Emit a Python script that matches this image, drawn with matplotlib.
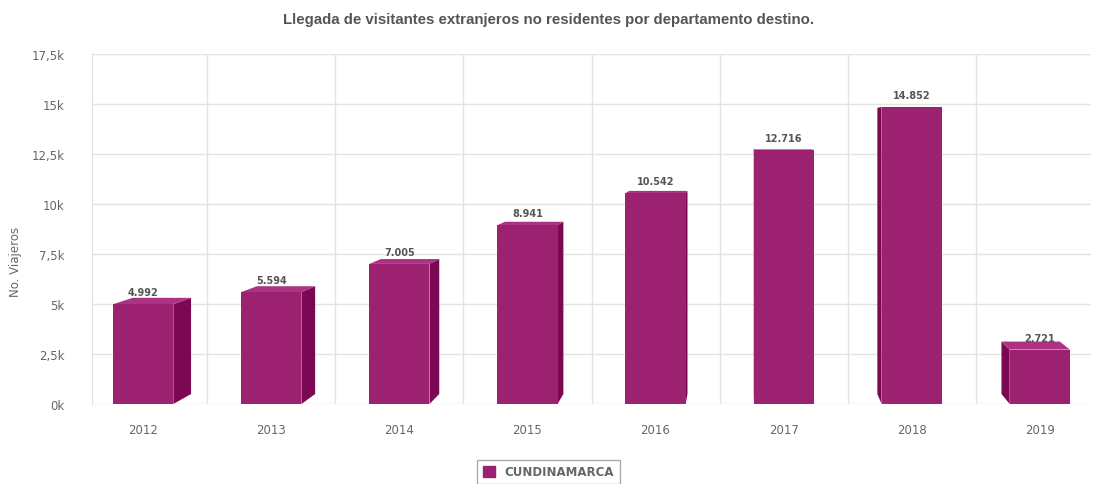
import matplotlib.pyplot as plt
import numpy as np
from matplotlib.patches import Polygon
from matplotlib.ticker import FuncFormatter

years = ["2012", "2013", "2014", "2015", "2016", "2017", "2018", "2019"]
visitors = [4992, 5594, 7005, 8941, 10542, 12716, 14852, 2721]
series_name = "CUNDINAMARCA"
title = "Llegada de visitantes extranjeros no residentes por departamento destino."
y_label = "No. Viajeros"

FRONT = "#9c2170"
SIDE = "#7a0852"
TOP = "#ac3282"
GRID = "#e3e3e3"
TEXT = "#666666"

# fake 3d depth: back face shifted toward a "vanishing point" in data units
VX, TX = 4.7, 0.031
VY, TY = 13600, 0.0368
BAR_W = 0.47


def back(x, y):
    return x + TX * (VX - x), y + TY * (VY - y)


def yfmt(v, _):
    s = f"{v / 1000:g}k"
    return s.replace(".", ",")


def thousands(v):
    return f"{v:,}".replace(",", ".")


fig = plt.figure(figsize=(10.97, 4.85), dpi=100)
ax = fig.add_axes([92 / 1097, 80 / 485, 999 / 1097, 350 / 485])

x = np.arange(len(years))
ax.bar(x, visitors, width=BAR_W, color=FRONT, zorder=3, linewidth=0)

for xi, h in zip(x, visitors):
    xl, xr = xi - BAR_W / 2, xi + BAR_W / 2
    # side face
    if xr < VX:
        pts = [(xr, 0), (xr, h), back(xr, h), back(xr, 0)]
        ax.add_patch(Polygon(pts, closed=True, color=SIDE, lw=0, zorder=2))
    elif xl > VX:
        pts = [(xl, 0), (xl, h), back(xl, h), back(xl, 0)]
        ax.add_patch(Polygon(pts, closed=True, color=SIDE, lw=0, zorder=2))
    # top face
    if h < VY:
        pts = [(xl, h), (xr, h), back(xr, h), back(xl, h)]
        ax.add_patch(Polygon(pts, closed=True, color=TOP, lw=0, zorder=2))
    ax.annotate(thousands(h), (xi, h), xytext=(0, 5), textcoords="offset points",
                ha="center", va="bottom", fontsize=7, fontweight="bold",
                color="#555555", zorder=4)

ax.set_xlim(-0.4, 7.4)
ax.set_ylim(0, 17500)
ax.set_yticks(np.arange(0, 17501, 2500))
ax.yaxis.set_major_formatter(FuncFormatter(yfmt))
ax.set_xticks(x)
ax.set_xticklabels(years)
ax.tick_params(axis="y", length=0, pad=20, labelsize=8.5, labelcolor=TEXT)
ax.tick_params(axis="x", length=0, pad=14, labelsize=8.5, labelcolor=TEXT)
ax.grid(axis="y", color=GRID, lw=1, zorder=0)
for b in np.arange(0.5, 7, 1.0):
    ax.axvline(b, color=GRID, lw=1, zorder=0)
for side in ["top", "right", "bottom"]:
    ax.spines[side].set_visible(False)
ax.spines["left"].set_color(GRID)
ax.set_axisbelow(True)

fig.text(15 / 1097, 1 - 262 / 485, y_label, rotation=90, ha="center", va="center",
         fontsize=8.5, color=TEXT)
fig.text(0.5, 1 - 20 / 485, title, ha="center", va="center", fontsize=10.8,
         fontweight="bold", color="#555555", family=["Liberation Sans", "DejaVu Sans"])

handle = plt.Rectangle((0, 0), 1, 1, color=FRONT)
leg = fig.legend([handle], [series_name], loc="center", bbox_to_anchor=(0.5, 1 - 473 / 485),
                 fancybox=False, edgecolor="#999999", handlelength=1.0, handleheight=1.0,
                 prop={"size": 8.5, "weight": "bold"}, borderpad=0.5)
for t in leg.get_texts():
    t.set_color(TEXT)

fig.savefig("out.png", dpi=100)
